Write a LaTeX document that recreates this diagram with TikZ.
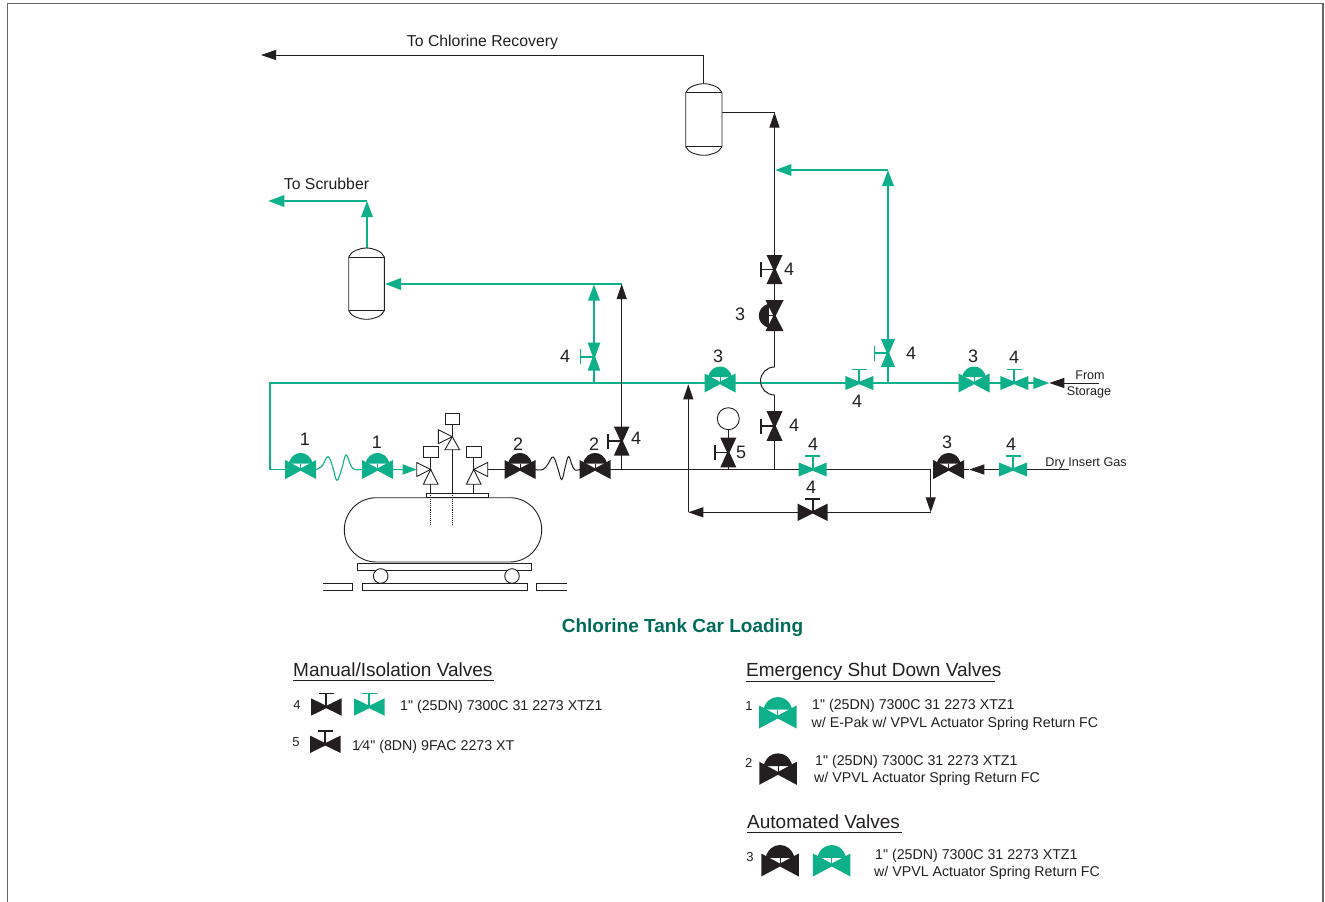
\documentclass[tikz,border=0pt]{standalone}
\usepackage{fontspec}
\setmainfont{Liberation Sans}[Ligatures=TeXOff]
\usetikzlibrary{arrows.meta}
\definecolor{grn}{HTML}{0DB08A}
\definecolor{blk}{HTML}{231F20}
\definecolor{ttl}{HTML}{006B5B}
\tikzset{
  gline/.style={draw=grn,line width=1.8pt},
  bline/.style={draw=blk,line width=1pt},
  garrow/.style={gline,-{Triangle[length=16pt,width=11.5pt]}},
  barrow/.style={bline,-{Triangle[length=15pt,width=10pt]}},
  vesselbox/.style={draw=blk,line width=0.9pt,fill=white},
  trim/.style={draw=blk,line width=0.9pt,fill=white},
  num/.style={font=\fontsize{18}{18}\selectfont,text=blk,inner sep=0pt},
  smalltxt/.style={font=\fontsize{12.6}{12.6}\selectfont,text=blk,inner sep=0pt},
  tagtxt/.style={font=\fontsize{15.8}{15.8}\selectfont,text=blk,inner sep=0pt},
  legtxt/.style={font=\fontsize{14.2}{14.2}\selectfont,text=blk,inner sep=0pt,anchor=west},
  legnum/.style={font=\fontsize{13}{13}\selectfont,text=blk,inner sep=0pt},
  leghead/.style={font=\fontsize{19}{19}\selectfont,text=blk,inner sep=0pt,anchor=base west},
  pics/actuated/.style={code={
    \fill[#1] (-15.5,-9.5) -- (0,-1.2) -- (15.5,-9.5) -- (15.5,9.5) -- (0,1.2) -- (-15.5,9.5) -- cycle;
    \fill[#1] (-12,-6) .. controls (-10,-13.5) and (-5,-16.5) .. (0,-16.5) .. controls (5,-16.5) and (10,-13.5) .. (12,-6) -- cycle;
    \draw[#1,line width=0.9pt] (0,-6) -- (0,0);
  }},
  pics/manual/.style args={#1,#2,#3}{code={
    \fill[#1] (-#2,-#3) -- (0,-1.2) -- (#2,-#3) -- (#2,#3) -- (0,1.2) -- (-#2,#3) -- cycle;
    \draw[#1,line width=1.7pt] (0,0) -- (0,-13.5) (-7.5,-13.5) -- (7.5,-13.5);
  }},
  pics/threeway/.style args={#1,#2}{code={
    \draw[trim] (0,0) -- (#1*14,-7) -- (#1*14,7) -- cycle;
    \draw[trim] (0,0) -- (-7.3,#2) -- (7.3,#2) -- cycle;
    \draw[trim] (-7.3,-23.5) rectangle (7.3,-12);
    \draw[bline,line width=0.9pt] (0,0) -- (0,-12);
  }}
}
\begin{document}
\begin{tikzpicture}[x=1pt,y=-1pt]
\useasboundingbox (0,0) rectangle (1325,902);
\draw[draw=black!60,line width=1.3pt] (7.5,902) -- (7.5,3.5) -- (1323,3.5) -- (1323,902);

% ---------- coordinates
\coordinate (e1) at (300.7,469.5);
\coordinate (e2) at (377.5,469.5);
\coordinate (e3) at (520,469.5);
\coordinate (e4) at (595,469.5);
\coordinate (tv1) at (430.7,469.5);
\coordinate (tv2) at (452.3,436.7);
\coordinate (tv3) at (473.7,469.5);
\coordinate (m1) at (621.7,441);
\coordinate (m2) at (594,356.7);
\coordinate (a1) at (720,383);
\coordinate (m3) at (859.3,383);
\coordinate (m4) at (888,353);
\coordinate (a2) at (974,383);
\coordinate (m5) at (1014.3,383);
\coordinate (m6) at (728.3,452.5);
\coordinate (m7) at (774.5,426);
\coordinate (m8) at (812.7,469.5);
\coordinate (a3) at (948.7,469.5);
\coordinate (m9) at (1013,469.5);
\coordinate (m10) at (812.7,512.3);
\coordinate (m11) at (774.5,269.5);
\coordinate (a4) at (774.5,315.7);

\coordinate (greenL) at (270,383);
\coordinate (greenLb) at (270,469.5);
\coordinate (greenR) at (1049.3,383);
\coordinate (storage) at (1099,383);
\coordinate (g887) at (888,383);
\coordinate (g887t) at (888,170);
\coordinate (g775) at (775.3,170);
\coordinate (g594b) at (594,383);
\coordinate (g594t) at (594,284.5);
\coordinate (g622) at (621.7,284);
\coordinate (gv1) at (385,284);
\coordinate (gv1t) at (367,248);
\coordinate (gs) at (367,201);
\coordinate (gsc) at (268.3,201);
\coordinate (b622t) at (621.7,284);
\coordinate (j622) at (621.7,469.5);
\coordinate (j728) at (728.3,469.5);
\coordinate (j775) at (774.5,469.5);
\coordinate (j931) at (930.7,469.5);
\coordinate (j931b) at (930.7,512.3);
\coordinate (j689) at (688.3,512.3);
\coordinate (j689t) at (688.3,384.3);
\coordinate (gauge) at (728.3,418.7);
\coordinate (dry) at (1069,469.5);
\coordinate (arrD) at (969.3,469.5);
\coordinate (bumpT) at (774.5,367);
\coordinate (bumpB) at (774.5,395);
\coordinate (t774) at (774.5,112.5);
\coordinate (v2r) at (722,112.5);
\coordinate (v2t) at (703.8,83.7);
\coordinate (v2u) at (703.8,55);
\coordinate (chl) at (261,55);
\coordinate (arrG) at (416.7,469.5);

% ---------- green piping
\draw[gline] (g594b) -- (m2);
\draw[gline] (greenLb) -- (greenL) -- (a1) -- (m3) -- (a2) -- (m5);
\draw[garrow] (m5) -- (greenR);
\draw[gline] (g887) -- (m4);
\draw[garrow] (m4) -- (g887t);
\draw[garrow] (g887t) -- (g775);
\draw[garrow] (m2) -- (g594t);
\draw[garrow] (g622) -- (gv1);
\draw[garrow] (gv1t) -- (gs);
\draw[garrow] (gs) -- (gsc);
\draw[gline] (greenLb) -- (e1);
\draw[gline,line width=1.1pt] plot[smooth,tension=0.7] coordinates {(316,469.5) (322,466) (328,456.7) (333,468) (337,480.3) (342,468) (346,455) (351,466) (355,469.5) (362,469.5)};
\draw[garrow,-{Triangle[length=14pt,width=10pt]}] (e2) -- (arrG);

% ---------- black piping
\draw[bline] (tv3) -- (e3);
\draw[bline] plot[smooth,tension=0.7] coordinates {(535,469.5) (543,469.5) (548,464) (553.3,457) (558,469) (561.7,479.5) (565,468) (568.5,456.5) (572,465) (575,470) (580,469.5)};
\draw[bline] (e4) -- (j931);
\draw[bline] (j622) -- (m1);
\draw[barrow] (m1) -- (b622t);
\draw[barrow] (storage) -- (greenR);
\draw[bline] (gauge) -- (m6) -- (j728);
\draw[bline] (bumpB) -- (m7) -- (j775);
\draw[bline] (bumpT) arc[start angle=270,end angle=90,radius=14];
\draw[bline] (bumpT) -- (a4) -- (m11);
\draw[barrow] (m11) -- (t774);
\draw[bline] (v2r) -- (t774);
\draw[barrow] (j931) -- (j931b);
\draw[barrow] (j931b) -- (j689);
\draw[barrow] (j689) -- (j689t);
\draw[barrow] (dry) -- (arrD);
\draw[bline] (arrD) -- (a3);
\draw[barrow] (v2t) -- (v2u) -- (chl);

% ---------- vessels
\draw[vesselbox] (348.7,257) .. controls (351,251) and (360,248) .. (366.5,248) .. controls (373,248) and (382,251) .. (384.3,257) -- (384.3,310.7) .. controls (382,316.5) and (373,319.3) .. (366.5,319.3) .. controls (360,319.3) and (351,316.5) .. (348.7,310.7) -- cycle;
\draw[bline,line width=0.9pt] (348.7,257) -- (384.3,257) (348.7,310.7) -- (384.3,310.7);
\draw[vesselbox] (685.7,92.7) .. controls (688,86.5) and (697,83.7) .. (703.8,83.7) .. controls (710.5,83.7) and (719.5,86.5) .. (722,92.7) -- (722,146.7) .. controls (719.5,152.5) and (710.5,155.3) .. (703.8,155.3) .. controls (697,155.3) and (688,152.5) .. (685.7,146.7) -- cycle;
\draw[bline,line width=0.9pt] (685.7,92.7) -- (722,92.7) (685.7,146.7) -- (722,146.7);

% ---------- tank car
\draw[trim,rounded corners=32pt] (344.3,497.7) rectangle (541.7,562);
\draw[trim] (426,493.3) rectangle (488.3,497.7);
\draw[trim] (357.7,563.3) rectangle (531,570.7);
\draw[trim] (380.7,576) circle[radius=7.3];
\draw[trim] (512,576) circle[radius=7.3];
\draw[trim] (362.7,583.3) rectangle (527.3,590.7);
\draw[bline,line width=0.9pt] (323.3,583.3) -- (352.7,583.3) -- (352.7,590.7) -- (323.3,590.7);
\draw[bline,line width=0.9pt] (566.7,583.3) -- (536.7,583.3) -- (536.7,590.7) -- (566.7,590.7);

% tank valves and dip pipes
\coordinate (d1a) at (430.7,493.3); \coordinate (d1b) at (430.7,525.3);
\coordinate (d2a) at (452.3,493.3); \coordinate (d2b) at (452.3,525.3);
\coordinate (d3a) at (473.7,493.3);
\draw[bline] (tv1) -- (d1a);
\draw[bline] (tv2) -- (d2a);
\draw[bline] (tv3) -- (d3a);
\draw[bline,line width=0.9pt,densely dotted] (d1a) -- (d1b);
\draw[bline,line width=0.9pt,densely dotted] (d2a) -- (d2b);
\pic at (tv1) {threeway={-1,14.7}};
\pic at (tv2) {threeway={-1,13}};
\pic at (tv3) {threeway={1,14.7}};

% ---------- gauge
\draw[trim] (gauge) circle[radius=11];

% ---------- valves
\pic at (e1) {actuated=grn};
\pic at (e2) {actuated=grn};
\pic at (e3) {actuated=blk};
\pic at (e4) {actuated=blk};
\pic at (a1) {actuated=grn};
\pic at (a2) {actuated=grn};
\pic at (a3) {actuated=blk};
\pic[rotate=90,yscale=0.95] at (a4) {actuated=blk};
\pic[rotate=90] at (m1) {manual={blk,14.5,7.8}};
\pic[rotate=90] at (m2) {manual={grn,14,6.3}};
\pic at (m3) {manual={grn,14,7}};
\pic[rotate=90] at (m4) {manual={grn,14,7}};
\pic at (m5) {manual={grn,14,7}};
\pic[rotate=90] at (m6) {manual={blk,14.8,8}};
\pic[rotate=90] at (m7) {manual={blk,14.8,8}};
\pic at (m8) {manual={grn,14,7}};
\pic at (m9) {manual={grn,14,7}};
\pic at (m10) {manual={blk,15,8.7}};
\pic[rotate=90] at (m11) {manual={blk,14.5,8}};

% ---------- valve numbers
\node[num] (n1) at (305,439.5) {1};
\node[num] (n2) at (377,442.5) {1};
\node[num] (n3) at (518,444.5) {2};
\node[num] (n4) at (594,444.5) {2};
\node[num] (n5) at (636,438.5) {4};
\node[num] (n6) at (565,356.5) {4};
\node[num] (n7) at (718,356.5) {3};
\node[num] (n8) at (857,401.5) {4};
\node[num] (n9) at (911,353.5) {4};
\node[num] (n10) at (973,356.5) {3};
\node[num] (n11) at (1014,357.5) {4};
\node[num] (n12) at (741,452.5) {5};
\node[num] (n13) at (794,425.5) {4};
\node[num] (n14) at (813,444.5) {4};
\node[num] (n15) at (947,442.5) {3};
\node[num] (n16) at (1011,444.5) {4};
\node[num] (n17) at (811,487.5) {4};
\node[num] (n18) at (789,269.5) {4};
\node[num] (n19) at (740,314.5) {3};

% ---------- flow labels
\node[tagtxt] (tc) at (482.5,42) {To Chlorine Recovery};
\node[tagtxt] (ts) at (326.5,184) {To Scrubber};
\node[smalltxt] (fr) at (1090,375.5) {From};
\node[smalltxt] (st) at (1089,392.5) {Storage};
\node[smalltxt] (dg) at (1086,463.5) {Dry Insert Gas};

% ---------- title
\node[inner sep=0pt,font=\fontsize{19}{19}\selectfont\bfseries,text=ttl] (title) at (682.5,628) {Chlorine Tank Car Loading};

% ---------- legend headings
\node[leghead] (h1) at (293,676) {Manual/Isolation Valves};
\node[leghead] (h2) at (746,676) {Emergency Shut Down Valves};
\node[leghead] (h3) at (747,828) {Automated Valves};
\draw[bline] (293,680) -- (494,680);
\draw[bline] (746,681) -- (995,681);
\draw[bline] (747,832) -- (902,832);

% ---------- legend rows
\node[legnum] (k4) at (297,705.5) {4};
\coordinate (L1) at (326.3,707); \coordinate (L2) at (369.3,707);
\pic at (L1) {manual={blk,15.3,8.7}};
\pic at (L2) {manual={grn,15.3,8.7}};
\node[legtxt] (t4) at (400,707) {1" (25DN) 7300C 31 2273 XTZ1};
\node[legnum] (k5) at (296,742) {5};
\coordinate (L3) at (325.3,744.3);
\pic at (L3) {manual={blk,15.3,8.7}};
\node[legtxt] (t5) at (352,747) {1⁄4" (8DN) 9FAC 2273 XT};

\node[legnum] (k1) at (749,706.5) {1};
\coordinate (L4) at (777.8,717);
\pic[scale=1.21] at (L4) {actuated=grn};
\node[legtxt] (t1a) at (812,706) {1" (25DN) 7300C 31 2273 XTZ1};
\node[legtxt] (t1b) at (811.5,724) {w/ E-Pak w/ VPVL Actuator Spring Return FC};
\node[legnum] (k2) at (748.7,763) {2};
\coordinate (L5) at (778,773.3);
\pic[scale=1.21] at (L5) {actuated=blk};
\node[legtxt] (t2a) at (815,762) {1" (25DN) 7300C 31 2273 XTZ1};
\node[legtxt] (t2b) at (814,779) {w/ VPVL Actuator Spring Return FC};
\node[legnum] (k3) at (750,857) {3};
\coordinate (L6) at (780,865); \coordinate (L7) at (831.7,865);
\pic[scale=1.21] at (L6) {actuated=blk};
\pic[scale=1.21] at (L7) {actuated=grn};
\node[legtxt] (t3a) at (875,856) {1" (25DN) 7300C 31 2273 XTZ1};
\node[legtxt] (t3b) at (874,873) {w/ VPVL Actuator Spring Return FC};
\end{tikzpicture}
\end{document}
